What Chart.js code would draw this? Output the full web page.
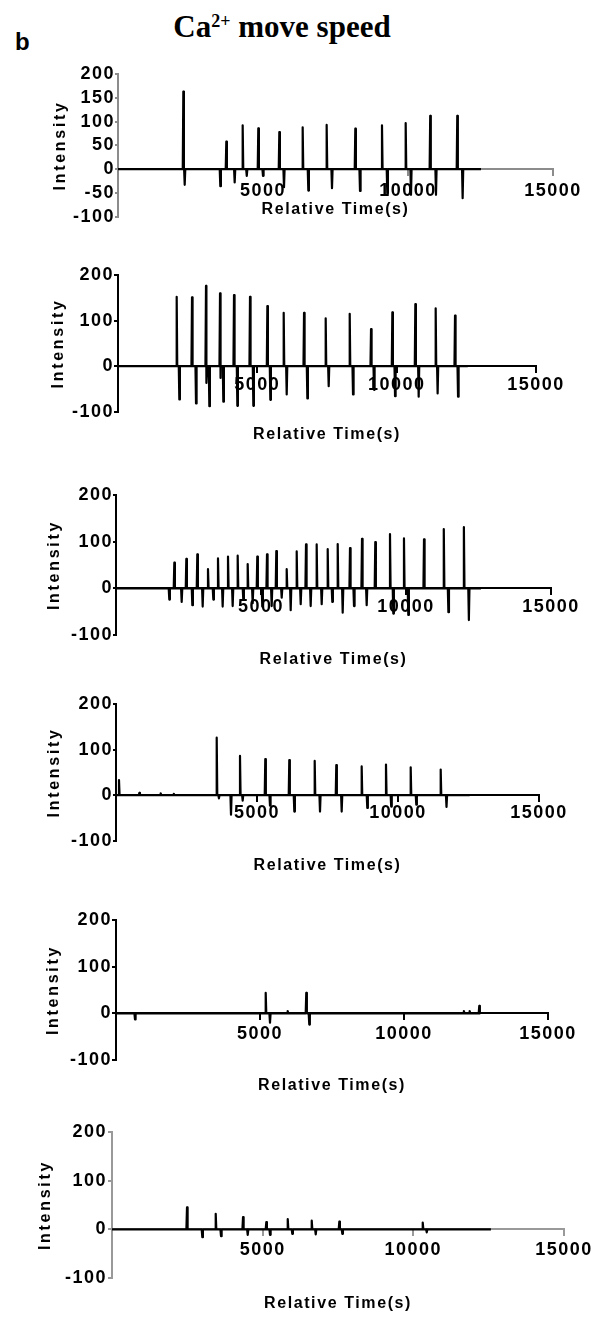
<!DOCTYPE html>
<html>
<head>
<meta charset="utf-8">
<title>Ca2+ move speed</title>
<script src="https://cdn.jsdelivr.net/npm/chart.js@4.4.1/dist/chart.umd.min.js"></script>
<style>
    html, body { margin: 0; padding: 0; background: #fff; }
    #page { position: relative; width: 606px; height: 1317px; overflow: hidden; }
    #page canvas { position: absolute; left: 0; top: 0; }
    #panel-letter { position: absolute; left: 15px; top: 30px; font: bold 24px/24px "Liberation Sans", Arial, sans-serif; }
    #main-title { position: absolute; left: 0; top: 11px; width: 564px; text-align: center; white-space: nowrap;
        font: bold 31px/31px "Liberation Serif", "Times New Roman", serif; }
    #main-title sup { font-size: 18px; line-height: 0; position: relative; top: -10px; vertical-align: baseline; }
</style>
</head>
<body>
<div id="page">
    <div id="main-title">Ca<sup>2+</sup> move speed</div>
    <div id="panel-letter">b</div>
    <canvas id="trace-1" width="606" height="1317"></canvas>
    <canvas id="trace-2" width="606" height="1317"></canvas>
    <canvas id="trace-3" width="606" height="1317"></canvas>
    <canvas id="trace-4" width="606" height="1317"></canvas>
    <canvas id="trace-5" width="606" height="1317"></canvas>
    <canvas id="trace-6" width="606" height="1317"></canvas>
</div>
<script>
// tick values
var xTicks = [5000, 10000, 15000];
var yTicksFine = [-100, -50, 0, 50, 100, 150, 200];
var yTicksCoarse = [-100, 0, 100, 200];

// each event is [time (s), intensity]
var p1Peaks = [[2253, 163], [3735, 58], [4299, 92], [4838, 86], [5563, 78], [6368, 88], [7195, 93], [8183, 85], [9103, 92], [9920, 97], [10766, 112], [11699, 112]];
var p1Dips = [[2300, -33], [3528, -36], [4023, -28], [4440, -14], [5000, -14], [5724, -38], [6563, -45], [7379, -40], [8345, -46], [9286, -51], [10103, -54], [10965, -54], [11884, -61]];
var p1End = 12517;

var p2Peaks = [[2106, 152], [2656, 151], [3158, 176], [3661, 160], [4163, 156], [4737, 152], [5360, 132], [5946, 117], [6676, 117], [7453, 105], [8315, 115], [9080, 81], [9845, 118], [10670, 136], [11400, 127], [12094, 111]];
var p2Dips = [[2201, -73], [2800, -82], [3180, -37], [3278, -88], [3680, -26], [3780, -78], [4283, -87], [4857, -87], [5467, -74], [6054, -62], [6795, -71], [7561, -44], [8434, -62], [9188, -52], [9942, -66], [10790, -67], [11470, -60], [12203, -67]];
var p2End = 12551;

var p3Peaks = [[2011, 55], [2425, 63], [2804, 73], [3172, 41], [3517, 64], [3862, 68], [4196, 70], [4541, 52], [4872, 68], [5207, 73], [5528, 80], [5886, 41], [6231, 79], [6552, 94], [6920, 94], [7300, 84], [7645, 95], [8069, 86], [8483, 106], [8941, 99], [9448, 116], [9930, 107], [10621, 105], [11303, 127], [11996, 131]];
var p3Dips = [[1838, -24], [2265, -29], [2632, -36], [2989, -39], [3356, -24], [3678, -39], [4023, -38], [4390, -25], [4713, -32], [5045, -39], [5368, -38], [5714, -20], [6024, -47], [6369, -34], [6713, -38], [7093, -34], [7459, -29], [7817, -52], [8207, -38], [8644, -36], [9562, -54], [10079, -57], [11462, -51], [12168, -68]];
var p3End = 12585;

var p4Peaks = [[106, 33], [3571, 126], [4397, 86], [5294, 79], [6145, 77], [7046, 75], [7812, 66], [8712, 63], [9574, 67], [10450, 61], [11514, 56]];
var p4Dips = [[3650, -7], [4078, -43], [4492, -12], [5461, -23], [6323, -36], [7234, -36], [8003, -36], [8911, -28], [9759, -25], [10649, -21], [11720, -26]];
var p4Blips = [[830, 5], [1585, 4], [2050, 3]];
var p4End = 12542;

var p5Peaks = [[5198, 44], [6607, 44], [12614, 16]];
var p5Dips = [[660, -13], [5347, -20], [6711, -24]];
var p5Blips = [[5961, 5], [12079, 5], [12280, 5]];
var p5End = 12640;

var p6Peaks = [[2489, 45], [3442, 32], [4348, 25], [5121, 15], [5832, 21], [6628, 18], [7544, 16], [10312, 14]];
var p6Dips = [[2997, -16], [3618, -14], [4504, -11], [5244, -11], [5984, -9], [6761, -10], [7644, -9], [10445, -6]];
var p6End = 12575;

var PAGE_W = 606;
var PAGE_H = 1317;
var AXIS_FONT = "'Liberation Sans', Arial, Helvetica, sans-serif";

// where each panel's plot box sits on the page
var panelLayout = [
    {left: 118, right: 553, top: 74, bottom: 216.7, axisColor: "#8c8c8c", yTickLen: 3, yTickPad: 0, xTickPad: 4.9, xTitleGap: 40.7, yTitlePad: 51},
    {left: 118, right: 536, top: 275, bottom: 411.7, axisColor: "#000", yTickLen: 4, yTickPad: 0, xTickPad: 1.8, xTitleGap: 68, yTitlePad: 49},
    {left: 116, right: 551, top: 495, bottom: 635, axisColor: "#000", yTickLen: 3, yTickPad: 0, xTickPad: 1.4, xTitleGap: 71.7, yTitlePad: 45},
    {left: 116, right: 539, top: 704, bottom: 840.7, axisColor: "#000", yTickLen: 3, yTickPad: 0, xTickPad: 1.5, xTitleGap: 70.3, yTitlePad: 45},
    {left: 116, right: 548, top: 920, bottom: 1060, axisColor: "#000", yTickLen: 4, yTickPad: 0, xTickPad: 3.4, xTitleGap: 72.7, yTitlePad: 44},
    {left: 112, right: 564, top: 1131.7, bottom: 1278.3, axisColor: "#999", yTickLen: 4, yTickPad: 1, xTickPad: 3.8, xTitleGap: 74.6, yTitlePad: 36}
];

function buildTrace(events, end){
    var pts = [{x: 0, y: 0}, {x: end, y: 0}];
    for(var i = 0; i < events.length; i++){
        var t = events[i][0];
        pts.push({x: t - 20, y: 0});
        pts.push({x: t, y: events[i][1]});
        pts.push({x: t + 20, y: 0});
    }
    pts.sort(function(a, b){ return a.x - b.x; });
    return pts;
}

function withSpacing(scale, method, px){
    var orig = scale[method];
    scale[method] = function(){
        var ctx = this.ctx;
        var old = ctx.letterSpacing;
        ctx.letterSpacing = px + "px";
        var r = orig.apply(this, arguments);
        ctx.letterSpacing = old;
        return r;
    };
}

// the figure's lettering is spaced out a bit
var letterSpacing = {
    id: 'letterSpacing',
    beforeDraw: function(chart, args, opts){
        ['x', 'y'].forEach(function(id){
            var s = chart.scales[id];
            if(s._spaced) return;
            withSpacing(s, 'drawLabels', opts.ticks);
            withSpacing(s, 'drawTitle', opts[id + 'Title']);
            s._spaced = true;
        });
    }
};

function tickFont(){
    return {family: AXIS_FONT, size: 18, weight: 'bold'};
}

function makePanel(canvasId, trace, yTicks, lay){
    var ctx = document.getElementById(canvasId).getContext('2d');

    return new Chart(ctx, {
        type: 'line',
        data: {
            datasets: [{
                data: trace,
                borderColor: "#000",
                borderWidth: 2.2,
                borderJoinStyle: 'round',
                pointRadius: 0,
                fill: false,
                tension: 0
            }]
        },
        options: {
            responsive: false,
            animation: false,
            devicePixelRatio: 1,
            layout: {
                padding: {left: 0, top: lay.top, right: PAGE_W - lay.right, bottom: PAGE_H - lay.bottom}
            },
            plugins: {
                legend: {display: false},
                tooltip: {enabled: false},
                letterSpacing: {ticks: 1.5, xTitle: 1.6, yTitle: 2.7}
            },
            scales: {
                x: {
                    type: 'linear',
                    min: 0,
                    max: 15000,
                    position: {y: 0},
                    afterBuildTicks: function(s){
                        s.ticks = xTicks.map(function(v){ return {value: v}; });
                    },
                    afterFit: function(s){
                        s.height = lay.xTitleGap + 9.6;
                    },
                    grid: {drawOnChartArea: false, drawTicks: true, tickLength: 6, color: lay.axisColor, lineWidth: 2},
                    border: {display: true, color: lay.axisColor, width: 2},
                    ticks: {
                        color: "#000",
                        padding: lay.xTickPad,
                        maxRotation: 0,
                        autoSkip: false,
                        font: tickFont(),
                        callback: function(v){ return String(v); }
                    },
                    title: {
                        display: true,
                        text: 'Relative Time(s)',
                        color: "#000",
                        font: {family: AXIS_FONT, size: 16, weight: 'bold'},
                        padding: {top: 0, bottom: 0}
                    }
                },
                y: {
                    type: 'linear',
                    min: -100,
                    max: 200,
                    position: 'left',
                    afterBuildTicks: function(s){
                        s.ticks = yTicks.map(function(v){ return {value: v}; });
                    },
                    afterFit: function(s){
                        s.width = lay.left;
                    },
                    grid: {drawOnChartArea: false, drawTicks: true, tickLength: lay.yTickLen, color: lay.axisColor, lineWidth: 2},
                    border: {display: true, color: lay.axisColor, width: 2},
                    ticks: {
                        color: "#000",
                        padding: lay.yTickPad,
                        autoSkip: false,
                        font: tickFont(),
                        callback: function(v){ return String(v); }
                    },
                    title: {
                        display: true,
                        text: 'Intensity',
                        color: "#000",
                        font: {family: AXIS_FONT, size: 16, weight: 'bold'},
                        padding: {top: lay.yTitlePad, bottom: 0}
                    }
                }
            }
        },
        plugins: [letterSpacing]
    });
}

makePanel('trace-1', buildTrace(p1Peaks.concat(p1Dips), p1End), yTicksFine, panelLayout[0]);
makePanel('trace-2', buildTrace(p2Peaks.concat(p2Dips), p2End), yTicksCoarse, panelLayout[1]);
makePanel('trace-3', buildTrace(p3Peaks.concat(p3Dips), p3End), yTicksCoarse, panelLayout[2]);
makePanel('trace-4', buildTrace(p4Peaks.concat(p4Dips, p4Blips), p4End), yTicksCoarse, panelLayout[3]);
makePanel('trace-5', buildTrace(p5Peaks.concat(p5Dips, p5Blips), p5End), yTicksCoarse, panelLayout[4]);
makePanel('trace-6', buildTrace(p6Peaks.concat(p6Dips), p6End), yTicksCoarse, panelLayout[5]);
</script>
</body>
</html>
